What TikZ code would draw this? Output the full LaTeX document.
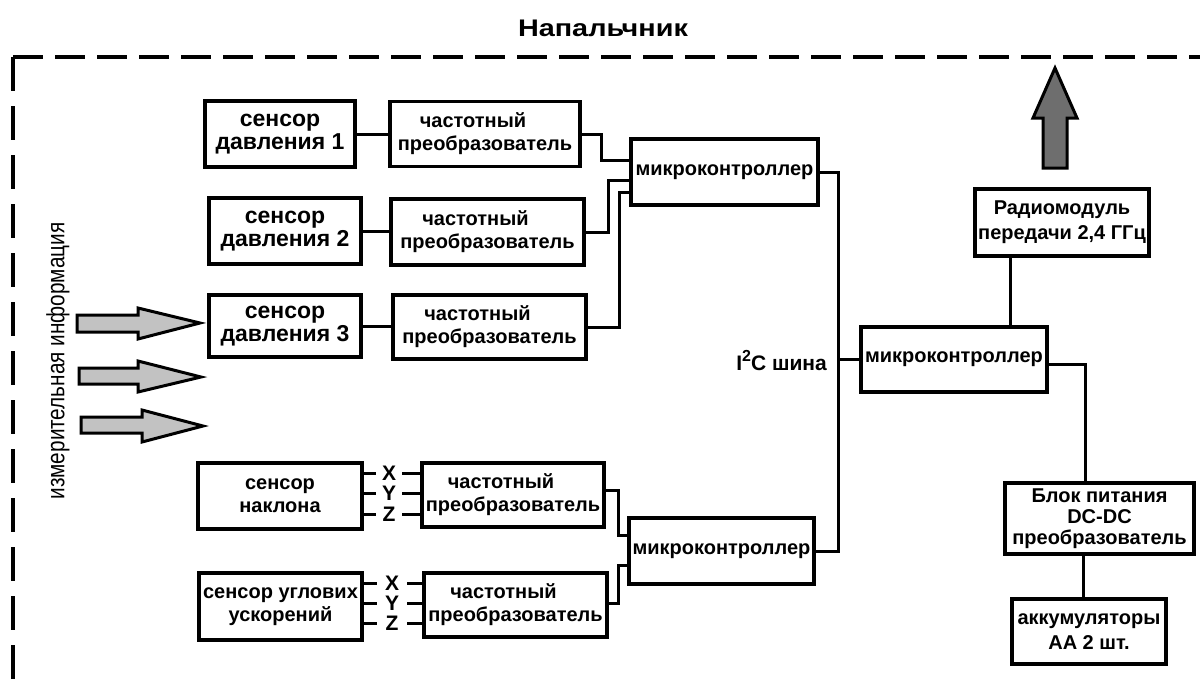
\documentclass[tikz,border=0pt]{standalone}
\usepackage{fontspec}
\setmainfont{Liberation Sans}
\newfontfamily\titlefont[FakeStretch=1.2]{Liberation Sans}
\newfontfamily\vertfont[FakeStretch=0.83]{Liberation Sans}
\usetikzlibrary{calc}
\begin{document}
\begin{tikzpicture}[x=1pt,y=-1pt]
\tikzset{
  box/.style={draw, line width=3.5pt, inner sep=0pt, align=center,
    font=\bfseries\fontsize{20}{23}\selectfont},
  sbox/.style={box, font=\bfseries\fontsize{23}{23}\selectfont},
  conn/.style={line width=3pt},
  xyz/.style={inner sep=0pt, minimum height=18pt, font=\bfseries\fontsize{21}{21}\selectfont},
  border/.style={line width=4pt},
  inarrow/.style={draw, line width=3pt, fill=black!24, line join=miter},
  outarrow/.style={draw, line width=3pt, fill=black!57, line join=miter},
}
\useasboundingbox (0,0) rectangle (1200,681);
\clip (0,0) rectangle (1200,681);
\fill[white] (0,0) rectangle (1200,681);

% dashed outline
\draw[border, dash pattern=on 30pt off 12pt] (13,57) -- (1210,57);
\draw[border, dash pattern=on 34pt off 15pt] (13,57) -- (13,700);

% title
\node[font=\titlefont\bfseries\fontsize{24}{24}\selectfont] (title) at (603,28) {Напальчник};

% vertical label
\node[rotate=90, font=\vertfont\fontsize{25}{25}\selectfont] (meas) at (58,361) {измерительная информация};

% input arrows
\draw[inarrow] (77,315) -- (138,315) -- (138,308) -- (200,323) -- (138,339) -- (138,332) -- (77,332) -- cycle;
\draw[inarrow] (79,368) -- (138,368) -- (138,361) -- (201,377) -- (138,392) -- (138,384) -- (79,384) -- cycle;
\draw[inarrow] (81,417) -- (142,417) -- (142,410) -- (203,426) -- (142,442) -- (142,433) -- (81,433) -- cycle;

% pressure sensors and converters
\node[sbox, minimum width=150pt, minimum height=66pt] (s1) at (280,134) {сенсор\\давления 1};
\node[box, minimum width=190pt, minimum height=65pt] (c1) at (485,134) {частотный\hspace*{24pt}\\преобразователь};
\node[sbox, minimum width=152pt, minimum height=66pt] (s2) at (285,231) {сенсор\\давления 2};
\node[box, minimum width=193pt, minimum height=66pt] (c2) at (487.5,232) {частотный\hspace*{24pt}\\преобразователь};
\node[sbox, minimum width=152pt, minimum height=62pt] (s3) at (285,326) {сенсор\\давления 3};
\node[box, minimum width=193pt, minimum height=64pt] (c3) at (489.5,327) {частотный\hspace*{24pt}\\преобразователь};

% microcontrollers
\node[box, minimum width=187pt, minimum height=66pt] (mc1) at (724.5,172) {микроконтроллер};
\node[box, minimum width=186pt, minimum height=65pt] (mc2) at (954,359.5) {микроконтроллер};
\node[box, minimum width=185pt, minimum height=66pt] (mc3) at (721.5,551) {микроконтроллер};

% tilt / angular acceleration sensors
\node[box, minimum width=164pt, minimum height=66pt] (st) at (280,496) {сенсор\\наклона};
\node[box, minimum width=182pt, minimum height=64pt] (c4) at (513,495) {частотный\hspace*{24pt}\\преобразователь};
\node[box, minimum width=163pt, minimum height=67pt] (sa) at (280.5,606.5) {сенсор углових\\ускорений};
\node[box, minimum width=183pt, minimum height=64pt] (c5) at (515.5,605) {частотный\hspace*{24pt}\\преобразователь};

% right column
\node[box, minimum width=174pt, minimum height=67pt, font=\bfseries\fontsize{20}{25}\selectfont] (radio) at (1062,222.5) {Радиомодуль\\передачи 2,4 ГГц};
\node[box, minimum width=189pt, minimum height=71pt, font=\bfseries\fontsize{20}{21}\selectfont] (power) at (1099.5,518.5) {Блок питания\\DC-DC\hspace*{12pt}\\преобразователь};
\node[box, minimum width=154pt, minimum height=65pt, font=\bfseries\fontsize{20}{25}\selectfont] (batt) at (1089,631.5) {аккумуляторы\\АА 2 шт.};

% output arrow
\draw[outarrow] (1043,168) -- (1043,118) -- (1033,118) -- (1055,68) -- (1077,118) -- (1067,118) -- (1067,168) -- cycle;

% XYZ letters
\node[xyz, minimum width=26pt] (tx) at (389,473) {X};
\node[xyz, minimum width=26pt] (ty) at (389,493) {Y};
\node[xyz, minimum width=26pt] (tz) at (389,514) {Z};
\node[xyz, minimum width=30pt] (ax) at (392,583) {X};
\node[xyz, minimum width=30pt] (ay) at (392,603) {Y};
\node[xyz, minimum width=30pt] (az) at (392,623) {Z};
\foreach \l in {tx,ty,tz}{
  \draw[conn] (st.east |- \l) -- (\l.west);
  \draw[conn] (\l.east) -- (c4.west |- \l);
}
\foreach \l in {ax,ay,az}{
  \draw[conn] (sa.east |- \l) -- (\l.west);
  \draw[conn] (\l.east) -- (c5.west |- \l);
}

% connectors
\draw[conn] (s1.east) -- (c1.west |- s1.east);
\draw[conn] (s2.east) -- (c2.west |- s2.east);
\draw[conn] (s3.east) -- (c3.west |- s3.east);
\draw[conn] (c1.east) -- ++(20,0) |- ($(mc1.west)+(0,-12)$);
\draw[conn] (c2.east) -- ++(23,0) |- ($(mc1.west)+(0,8)$);
\draw[conn] (c3.east) -- ++(32,0) |- ($(mc1.west)+(0,20)$);
\draw[conn] ($(c4.east)+(0,-5)$) -- ++(13,0) |- ($(mc3.west)+(0,-16)$);
\draw[conn] ($(c5.east)+(0,-2)$) -- ++(10,0) |- ($(mc3.west)+(0,14)$);

% I2C bus
\coordinate (busx) at (838,0);
\draw[conn] (mc1.east) -| (busx |- mc3.east) -- (mc3.east);
\draw[conn] (mc2.west) -- (mc2.west -| busx);
\node[anchor=base east, inner sep=0pt, font=\bfseries\fontsize{21}{21}\selectfont] (i2c) at (827,370) {I\raisebox{9pt}{\fontsize{16}{16}\selectfont 2}C шина};

\coordinate (rx) at (1010,0);
\draw[conn] (radio.south -| rx) -- (mc2.north -| rx);
\coordinate (px) at (1085,0);
\draw[conn] ($(mc2.east)+(0,5)$) -| (power.north -| px);
\coordinate (bx) at (1083,0);
\draw[conn] (power.south -| bx) -- (batt.north -| bx);
\end{tikzpicture}
\end{document}
